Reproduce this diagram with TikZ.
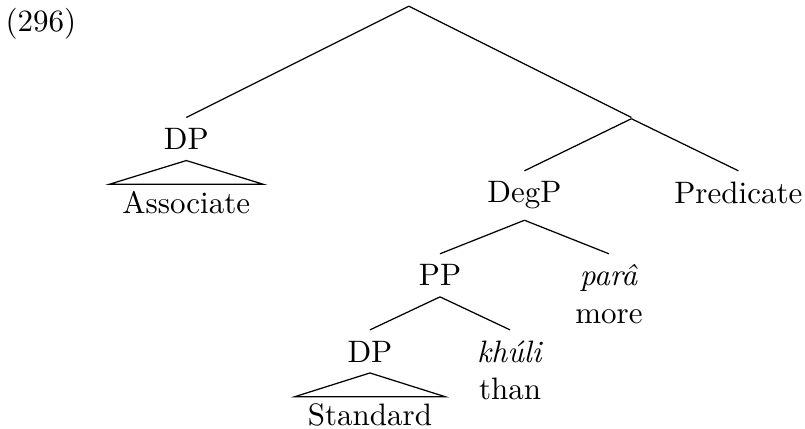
\documentclass[tikz,border=0pt]{standalone}
\usetikzlibrary{trees}

\begin{document}
\begin{tikzpicture}[
    every node/.style={anchor=north},
    parent anchor=south,
    child anchor=north,
    branch/.style={inner sep=0pt, minimum size=0pt},
    roof/.style={
        level distance=14.6pt,
        every child node/.style={inner xsep=4pt, inner ysep=2pt},
        edge from parent path={
            (\tikzparentnode.south) -- (\tikzchildnode.north west)
            -- (\tikzchildnode.north east) -- cycle}
    },
    level 1/.style={level distance=36.1pt, sibling distance=143.6pt},
    level 2/.style={level distance=17pt, sibling distance=69pt},
    level 3/.style={level distance=18.8pt, sibling distance=54.5pt},
    level 4/.style={level distance=17.6pt, sibling distance=45.2pt},
  ]
  \useasboundingbox (0,0) rectangle (259.7pt,-138.4pt);
  \node [anchor=base west, inner sep=0pt] (exnum) at (1.6pt,-10.3pt) {(296)};
  \node [branch] (root) at (131.9pt,-1.6pt) {}
    child { node (dp-assoc) {DP}
        child [roof] { node (associate) {Associate} }
    }
    child { node [branch] (bar) {}
        child { node (degp) {DegP}
            child { node (pp) {PP}
                child { node (dp-std) {DP}
                    child [roof] { node (standard) {Standard} }
                }
                child { node [align=center] (than) {\textit{kh\'uli}\\than} }
            }
            child { node [align=center] (more) {\textit{par\^a}\\more} }
        }
        child { node (pred) {Predicate} }
    };
\end{tikzpicture}
\end{document}
